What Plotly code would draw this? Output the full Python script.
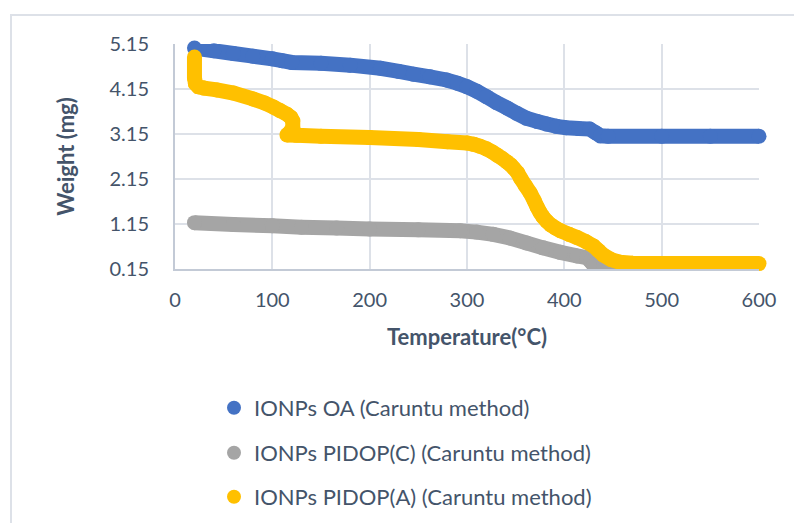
import plotly.graph_objects as go

# Thermogravimetric curves: temperature (°C) vs. sample weight (mg)
oa_temp = [20, 40, 60, 80, 100, 110, 120, 150, 180, 211, 230, 245, 262, 279, 290,
           300, 310, 320, 330, 341, 351, 361, 372, 382, 392, 402, 415, 426, 432,
           437, 445, 500, 550, 600]
oa_weight = [5.06, 5.00, 4.94, 4.88, 4.82, 4.78, 4.74, 4.72, 4.68, 4.61, 4.54, 4.48,
             4.42, 4.35, 4.28, 4.20, 4.10, 3.98, 3.85, 3.73, 3.61, 3.50, 3.43, 3.37,
             3.32, 3.29, 3.27, 3.26, 3.18, 3.11, 3.10, 3.10, 3.10, 3.10]

pidop_c_temp = [20, 60, 100, 130, 166, 200, 250, 293, 310, 327, 344, 361, 378,
                396, 413, 423, 427, 430, 440, 500, 600]
pidop_c_weight = [1.18, 1.14, 1.11, 1.08, 1.06, 1.04, 1.02, 1.00, 0.97, 0.92, 0.84,
                  0.73, 0.62, 0.52, 0.44, 0.40, 0.32, 0.24, 0.22, 0.22, 0.22]

pidop_a_temp = [20, 20, 21, 24, 30, 43, 60, 80, 92, 101, 108, 115, 119, 121, 121,
                118, 115, 125, 150, 200, 250, 280, 300, 307, 313, 320, 326, 331,
                336, 341, 345, 348, 352, 355, 360, 365, 369, 372, 375, 378, 382,
                386, 391, 396, 405, 413, 422, 430, 435, 440, 448, 457, 470, 500, 600]
pidop_a_weight = [4.86, 4.40, 4.27, 4.20, 4.17, 4.13, 4.06, 3.93, 3.84, 3.75, 3.67,
                  3.59, 3.52, 3.44, 3.30, 3.18, 3.13, 3.12, 3.10, 3.07, 3.03, 2.98,
                  2.95, 2.92, 2.88, 2.82, 2.75, 2.68, 2.61, 2.53, 2.46, 2.39, 2.29,
                  2.17, 2.00, 1.84, 1.67, 1.53, 1.41, 1.31, 1.21, 1.13, 1.06, 1.00,
                  0.92, 0.85, 0.76, 0.66, 0.56, 0.46, 0.36, 0.30, 0.28, 0.27, 0.27]

series = [
    ("IONPs OA (Caruntu method)", oa_temp, oa_weight, "#4472C4", False),
    ("IONPs PIDOP(C) (Caruntu method)", pidop_c_temp, pidop_c_weight, "#A5A5A5", True),
    ("IONPs PIDOP(A) (Caruntu method)", pidop_a_temp, pidop_a_weight, "#FFC000", False),
]

x_ticks = [0, 100, 200, 300, 400, 500, 600]
y_ticks = [0.15, 1.15, 2.15, 3.15, 4.15, 5.15]

TEXT = "#44546A"
GRID = "#DDE1E8"
FONT = "Lato"
LINE_W = 15
W, H = 794, 523
L, R, T, B = 175, 35, 44, 254
PW, PH = W - L - R, H - T - B


def px_x(p):
    return (p - L) / PW


def px_y(p):
    return (H - B - p) / PH


fig = go.Figure()

legend_names = ["legend", "legend2", "legend3"]
for (name, xs, ys, color, clip), lg in zip(series, legend_names):
    fig.add_trace(go.Scatter(
        x=xs, y=ys, mode="lines+markers", name=name, showlegend=False,
        line=dict(color=color, width=LINE_W, simplify=False),
        marker=dict(color=color, size=LINE_W, line=dict(width=0)),
        cliponaxis=clip,
    ))
    fig.add_trace(go.Scatter(
        x=[None], y=[None], mode="markers", name=name, legend=lg,
        marker=dict(color=color, size=14),
    ))

legend_rows = [408, 453, 497]
legend_cfg = {}
for lg, row in zip(legend_names, legend_rows):
    legend_cfg[lg] = dict(
        x=px_x(214), y=px_y(row), xanchor="left", yanchor="middle",
        font=dict(family=FONT, size=22, color=TEXT),
        bgcolor="rgba(0,0,0,0)", itemclick=False,
    )

fig.update_layout(
    width=W, height=H,
    margin=dict(l=L, r=R, t=T, b=B, autoexpand=False),
    paper_bgcolor="white", plot_bgcolor="white",
    font=dict(family=FONT, color=TEXT),
    xaxis=dict(
        range=[0, 600], tickvals=x_ticks, ticktext=[str(v) for v in x_ticks],
        showgrid=True, gridcolor=GRID, gridwidth=2,
        showline=True, linecolor="#C3CAD6", linewidth=2, zeroline=False,
        ticks="", ticklabelstandoff=12,
        tickfont=dict(family=FONT, size=20, color=TEXT),
        title=dict(text="<b>Temperature(°C)</b>", standoff=20,
                   font=dict(family=FONT, size=22, color=TEXT)),
    ),
    yaxis=dict(
        range=[0.15, 5.15], tickvals=y_ticks, ticktext=[f"{v:.2f}" for v in y_ticks],
        showgrid=True, gridcolor=GRID, gridwidth=2,
        showline=True, linecolor="#C3CAD6", linewidth=2, zeroline=False,
        ticks="", ticklabelstandoff=20,
        tickfont=dict(family=FONT, size=20, color=TEXT),
        title=dict(text="<b>Weight (mg)</b>", standoff=29,
                   font=dict(family=FONT, size=22, color=TEXT)),
    ),
    shapes=[
        dict(type="line", xref="paper", yref="paper",
             x0=px_x(10), x1=px_x(794), y0=px_y(15), y1=px_y(15),
             line=dict(color="#DDE1E8", width=2)),
        dict(type="line", xref="paper", yref="paper",
             x0=px_x(11), x1=px_x(11), y0=px_y(15), y1=px_y(523),
             line=dict(color="#DDE1E8", width=2)),
    ],
    **legend_cfg,
)

fig.write_html("out.html")
